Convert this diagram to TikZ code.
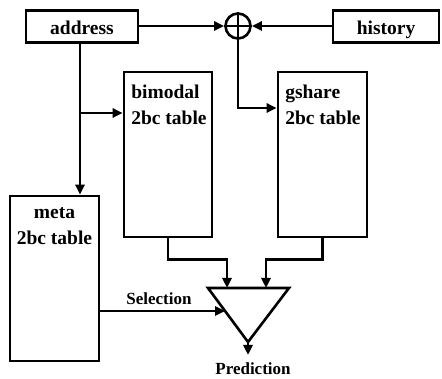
\documentclass[tikz,border=0pt]{standalone}
\usepackage{fontspec}
\setmainfont{Liberation Serif}
\usetikzlibrary{arrows.meta,calc}
\begin{document}
\begin{tikzpicture}[x=1pt,y=-1pt,line width=2.6pt,
  box/.style={draw,rectangle,inner sep=0pt},
  conn/.style={-{Triangle[length=10pt,width=9pt]}},
  lbl/.style={font=\fontsize{19.5}{26}\selectfont\bfseries,inner sep=0pt},
  small/.style={font=\fontsize{17}{20}\selectfont\bfseries,inner sep=0pt}]
\useasboundingbox (0,0) rectangle (442,379);
% boxes
\node[box,minimum width=112,minimum height=32,lbl,text height=16,text depth=0] (address) at (82,26.5) {address};
\node[box,minimum width=106,minimum height=32,lbl,text height=16,text depth=0] (history) at (386,26.5) {history};
\node[draw,circle,minimum size=25,inner sep=0pt] (xor) at (238,26) {};
\draw (xor.north) -- (xor.south) (xor.west) -- (xor.east);
\node[box,minimum width=88,minimum height=165] (bimodal) at (168,154.5) {};
\node[box,minimum width=89,minimum height=165] (gshare) at (322.5,154.5) {};
\node[box,minimum width=89,minimum height=165] (meta) at (54.5,278.5) {};
\node[lbl,align=left,anchor=north west] (bimodaltxt) at (130,84) {bimodal\\2bc table};
\node[lbl,align=left,anchor=north west] (gsharetxt) at (284,84) {gshare\\2bc table};
\node[lbl,align=center,anchor=north] (metatxt) at (54.5,206) {meta\\2bc table};
% mux triangle
\coordinate (tl) at (208,288);
\coordinate (tr) at (289,288);
\coordinate (tip) at (248,342);
\draw[line join=miter] (tl) -- (tr) -- (tip) -- cycle;
\coordinate (ina) at (227,288);
\coordinate (inb) at (266,288);
\coordinate (sel) at ($(tl)!0.426!(tip)$);
% connectors
\draw[conn] (address.east |- xor.west) -- (xor.west);
\draw[conn] (history.west |- xor.east) -- (xor.east);
\coordinate (aturn) at (80,113);
\draw[conn] (aturn |- address.south) -- (aturn |- meta.north);
\draw[conn] (aturn) -- (bimodal.west |- aturn);
\coordinate (gturn) at (238,108);
\draw[conn] (xor.south) -- (gturn) -- (gshare.west |- gturn);
\draw[conn] (bimodal.south) -- ++(0,21) -| (ina);
\draw[conn] (gshare.south) -- ++(0,21) -| (inb);
\draw[conn] (meta.east |- sel) -- (sel);
\node[small,anchor=base] (seltxt) at (159,305) {Selection};
\coordinate (out) at (248,355);
\draw[conn] (tip) -- (out);
\node[small,anchor=base] (predtxt) at (253,374) {Prediction};
\end{tikzpicture}
\end{document}
